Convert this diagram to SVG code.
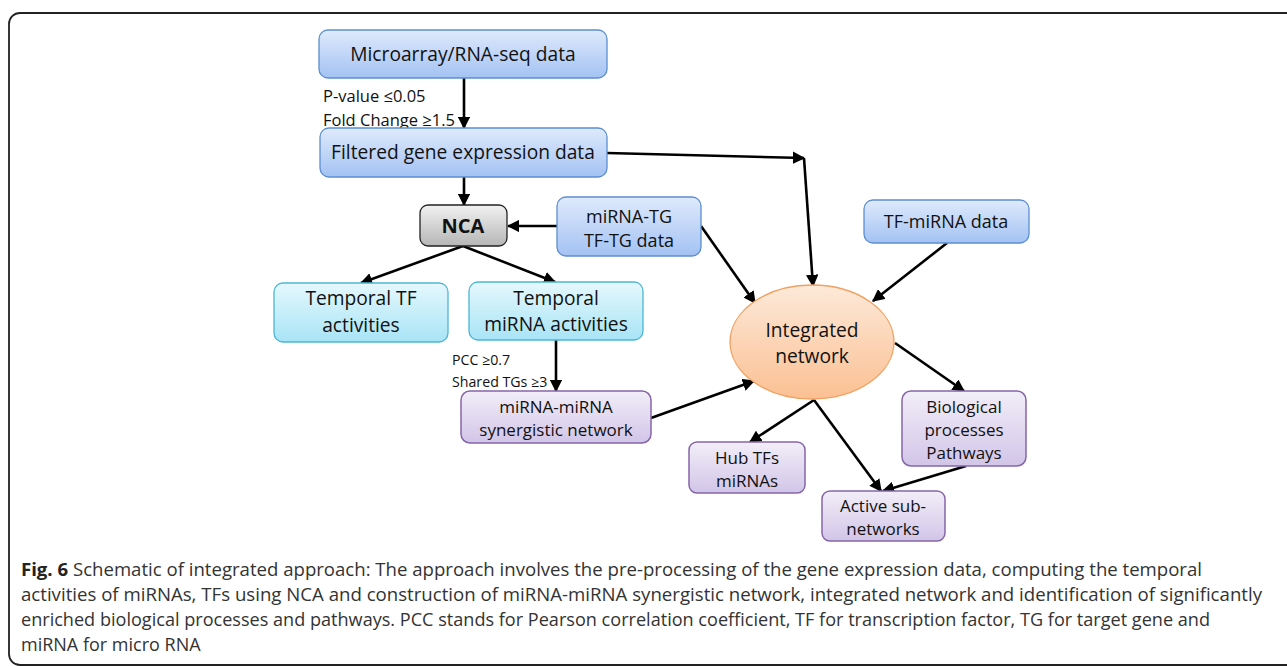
<svg xmlns="http://www.w3.org/2000/svg" width="1287" height="666" viewBox="0 0 1287 666">
<defs>
<linearGradient id="gBlue" x1="0" y1="0" x2="0" y2="1"><stop offset="0" stop-color="#dfeafc"/><stop offset="1" stop-color="#a3c2f3"/></linearGradient>
<linearGradient id="gGray" x1="0" y1="0" x2="0" y2="1"><stop offset="0" stop-color="#f2f2f2"/><stop offset="1" stop-color="#b5b5b5"/></linearGradient>
<linearGradient id="gCyan" x1="0" y1="0" x2="0" y2="1"><stop offset="0" stop-color="#e5f8fd"/><stop offset="1" stop-color="#a8e4f6"/></linearGradient>
<linearGradient id="gPurple" x1="0" y1="0" x2="0" y2="1"><stop offset="0" stop-color="#f2eef8"/><stop offset="1" stop-color="#d2c5e8"/></linearGradient>
<linearGradient id="gOrange" x1="0" y1="0" x2="0" y2="1"><stop offset="0" stop-color="#fde9d9"/><stop offset="1" stop-color="#fbc093"/></linearGradient>
<marker id="arr" viewBox="0 0 10 10" refX="9" refY="5" markerWidth="4.8" markerHeight="4.8" orient="auto" markerUnits="strokeWidth"><path d="M0,0 L10,5 L0,10 z" fill="#000"/></marker>
</defs>
<style>
.blue{fill:url(#gBlue);stroke:#5b8ed0;stroke-width:1.3}
.gray{fill:url(#gGray);stroke:#222;stroke-width:1.3}
.cyan{fill:url(#gCyan);stroke:#4cb6d6;stroke-width:1.3}
.purple{fill:url(#gPurple);stroke:#8666a8;stroke-width:1.5}
.orange{fill:url(#gOrange);stroke:#f0a060;stroke-width:1.3}
text{font-family:"Open Sans","Liberation Sans",sans-serif;fill:#111}
.t{font-size:19.2px;text-anchor:middle}
.s{font-size:18px;text-anchor:middle}
.p{font-size:17px;text-anchor:middle}
.lab{font-size:16.5px}
.lab2{font-size:14.2px}
.cap{font-size:18px;fill:#333}
.con{stroke:#000;stroke-width:2.6;fill:none;marker-end:url(#arr)}
</style>
<rect x="9" y="13" width="1320" height="652" rx="11" fill="none" stroke="#222" stroke-width="1.8"/>

<g id="connectors">
<line class="con" x1="464" y1="78" x2="464" y2="128"/>
<line class="con" x1="464" y1="177" x2="464" y2="205"/>
<line class="con" x1="557" y1="226" x2="508" y2="226"/>
<line class="con" x1="463" y1="246" x2="361" y2="283"/>
<line class="con" x1="463" y1="246" x2="555" y2="282"/>
<line class="con" x1="607" y1="153" x2="804" y2="158"/>
<line class="con" x1="804" y1="158" x2="813" y2="286"/>
<line class="con" x1="701" y1="226" x2="755" y2="303"/>
<line class="con" x1="947" y1="243" x2="873" y2="301"/>
<line class="con" x1="556" y1="340" x2="556" y2="391"/>
<line class="con" x1="651" y1="418" x2="754" y2="381"/>
<line class="con" x1="895" y1="343" x2="964" y2="391"/>
<line class="con" x1="814" y1="400" x2="750" y2="442"/>
<line class="con" x1="814" y1="400" x2="881" y2="491"/>
<line class="con" x1="966" y1="466" x2="883" y2="491"/>
</g>

<g id="labels">
<text class="lab" x="323" y="102">P-value ≤0.05</text>
<text class="lab" x="323" y="126">Fold Change ≥1.5</text>
<text class="lab2" x="452" y="365">PCC ≥0.7</text>
<text class="lab2" x="452" y="387">Shared TGs ≥3</text>
</g>

<g id="n-microarray"><rect class="blue" x="319" y="30" width="288" height="48" rx="9"/><text class="t" x="463" y="61">Microarray/RNA-seq data</text></g>
<g id="n-filtered"><rect class="blue" x="320" y="128" width="287" height="49" rx="9"/><text class="t" x="463" y="159">Filtered gene expression data</text></g>
<g id="n-nca"><rect class="gray" x="420" y="205" width="87" height="41" rx="8"/><text x="463" y="233" style="font-size:20px;font-weight:bold;text-anchor:middle">NCA</text></g>
<g id="n-mirnatg"><rect class="blue" x="557" y="197" width="144" height="59" rx="9"/><text class="s" x="629" y="223">miRNA-TG</text><text class="s" x="629" y="247">TF-TG data</text></g>
<g id="n-tfmirna"><rect class="blue" x="864" y="200" width="165" height="43" rx="9"/><text class="s" x="946" y="228">TF-miRNA data</text></g>
<g id="n-temptf"><rect class="cyan" x="274" y="283" width="174" height="59" rx="9"/><text class="t" x="361" y="305">Temporal TF</text><text class="t" x="361" y="332">activities</text></g>
<g id="n-tempmirna"><rect class="cyan" x="469" y="282" width="174" height="58" rx="9"/><text class="t" x="556" y="305">Temporal</text><text class="t" x="556" y="331">miRNA activities</text></g>
<g id="n-integrated"><ellipse class="orange" cx="812" cy="342" rx="82" ry="57"/><text class="t" x="812" y="337">Integrated</text><text class="t" x="812" y="363">network</text></g>
<g id="n-synergistic"><rect class="purple" x="461" y="391" width="190" height="52" rx="9"/><text class="p" x="556" y="413">miRNA-miRNA</text><text class="p" x="556" y="436">synergistic network</text></g>
<g id="n-hub"><rect class="purple" x="689" y="442" width="116" height="51" rx="8"/><text class="p" x="747" y="464">Hub TFs</text><text class="p" x="747" y="487">miRNAs</text></g>
<g id="n-bio"><rect class="purple" x="902" y="391" width="124" height="75" rx="9"/><text class="p" x="964" y="413">Biological</text><text class="p" x="964" y="436">processes</text><text class="p" x="964" y="459">Pathways</text></g>
<g id="n-active"><rect class="purple" x="822" y="491" width="123" height="50" rx="8"/><text class="p" x="883" y="512">Active sub-</text><text class="p" x="883" y="535">networks</text></g>

<g id="caption">
<text class="cap" x="21" y="576" textLength="1181" lengthAdjust="spacingAndGlyphs"><tspan style="font-weight:bold;fill:#222">Fig. 6</tspan> Schematic of integrated approach: The approach involves the pre-processing of the gene expression data, computing the temporal</text>
<text class="cap" x="21" y="601" textLength="1241" lengthAdjust="spacingAndGlyphs">activities of miRNAs, TFs using NCA and construction of miRNA-miRNA synergistic network, integrated network and identification of significantly</text>
<text class="cap" x="21" y="626" textLength="1189" lengthAdjust="spacingAndGlyphs">enriched biological processes and pathways. PCC stands for Pearson correlation coefficient, TF for transcription factor, TG for target gene and</text>
<text class="cap" x="21" y="651">miRNA for micro RNA</text>
</g>
</svg>
